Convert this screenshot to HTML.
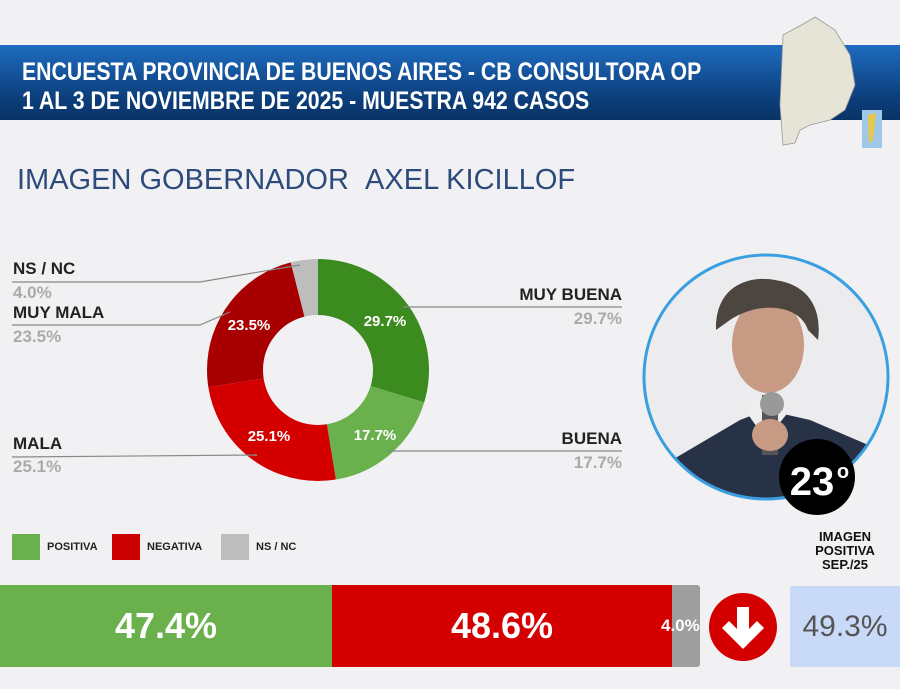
<!DOCTYPE html>
<html><head><meta charset="utf-8"><style>
body{margin:0;width:900px;height:689px;background:#f1f1f3;font-family:"Liberation Sans",sans-serif;position:relative;overflow:hidden}
.a{position:absolute}
.hdr{left:0;top:45px;width:900px;height:75px;background:linear-gradient(#1f6cc0,#0c3f7c 70%,#0a3366)}
.ht{left:22px;font-family:"Liberation Sans Narrow","Liberation Sans",sans-serif;color:#fff;font-weight:bold;font-size:25px;line-height:28px;transform:scaleX(0.85);transform-origin:left;white-space:nowrap}
.lab{font-weight:bold;font-size:17px;line-height:18px;color:#222;white-space:nowrap}
.val{font-weight:bold;font-size:17px;line-height:18px;color:#aaa}
.r{text-align:right;width:200px}
.lg{font-size:11px;font-weight:bold;color:#222}
</style></head><body>
<div class="a hdr"></div>
<div class="a ht" style="top:58px">ENCUESTA PROVINCIA DE BUENOS AIRES - CB CONSULTORA OP</div>
<div class="a ht" style="top:87px">1 AL 3 DE NOVIEMBRE DE 2025 - MUESTRA 942 CASOS</div>
<svg class="a" style="left:775px;top:15px" width="110" height="135">
<path d="M8,20 L30,8 L40,2 L60,15 L75,40 L80,70 L70,95 L55,105 L35,110 L25,115 L20,128 L8,130 L5,90 Z" fill="#e6e4d6" stroke="#999" stroke-width="0.8"/>
<rect x="87" y="95" width="20" height="38" fill="#9fc8e8"/><path d="M93,100 L101,98 L98,125 L94,128 Z" fill="#e8c84a"/>
</svg>
<div class="a" style="left:17px;top:164px;font-size:29px;color:#2d4a7c;white-space:nowrap;transform:scaleX(1.0);transform-origin:left">IMAGEN GOBERNADOR &nbsp;AXEL KICILLOF</div>

<svg class="a" style="left:0;top:0" width="900" height="689">
<g transform="rotate(-90 318 370)" fill="none" stroke-width="56">
<circle cx="318" cy="370" r="83" stroke="#3c8b1e" stroke-dasharray="154.9 521.5" stroke-dashoffset="0"/>
<circle cx="318" cy="370" r="83" stroke="#6ab04c" stroke-dasharray="92.3 521.5" stroke-dashoffset="-154.9"/>
<circle cx="318" cy="370" r="83" stroke="#d40000" stroke-dasharray="130.9 521.5" stroke-dashoffset="-247.2"/>
<circle cx="318" cy="370" r="83" stroke="#a80000" stroke-dasharray="122.6 521.5" stroke-dashoffset="-378.1"/>
<circle cx="318" cy="370" r="83" stroke="#bdbdbd" stroke-dasharray="20.9 521.5" stroke-dashoffset="-500.7"/>
</g>
<g stroke="#888" stroke-width="1.2" fill="none">
<polyline points="12,282 200,282 300,265"/>
<polyline points="12,325 200,325 230,312"/>
<polyline points="403,307 622,307"/>
<polyline points="388,451 622,451"/>
<polyline points="12,457 257,455"/>
</g>
<g font-family="Liberation Sans" font-weight="bold" font-size="15" fill="#fff" text-anchor="middle">
<text x="385" y="326">29.7%</text><text x="375" y="440">17.7%</text>
<text x="269" y="441">25.1%</text><text x="249" y="330">23.5%</text>
</g>
<defs><clipPath id="c"><circle cx="766" cy="377" r="122"/></clipPath></defs>
<circle cx="766" cy="377" r="122" fill="#ececef"/>
<g clip-path="url(#c)">
<path d="M672,460 L740,420 L766,410 L810,420 L880,450 L900,520 L660,520 Z" fill="#283247"/>
<path d="M745,410 L766,440 L790,410 L780,400 L752,400 Z" fill="#eee"/>
<ellipse cx="768" cy="345" rx="36" ry="48" fill="#c79a84"/>
<path d="M716,330 C715,285 750,275 775,280 C810,285 822,310 818,340 L808,330 C800,305 760,300 730,320 Z" fill="#4d4640"/>
<rect x="762" y="395" width="16" height="60" fill="#555"/>
<circle cx="772" cy="404" r="12" fill="#999"/>
<ellipse cx="770" cy="435" rx="18" ry="16" fill="#c79a84"/>
</g>
<circle cx="766" cy="377" r="122" fill="none" stroke="#3a9fe0" stroke-width="3"/>
<circle cx="817" cy="477" r="38" fill="#000"/>
<text x="812" y="495" font-family="Liberation Sans" font-weight="bold" font-size="40" fill="#fff" text-anchor="middle">23</text>
<text x="843" y="478" font-family="Liberation Sans" font-weight="bold" font-size="20" fill="#fff" text-anchor="middle">o</text>
</svg>

<div class="a lab" style="left:13px;top:260px">NS / NC</div>
<div class="a val" style="left:13px;top:284px">4.0%</div>
<div class="a lab" style="left:13px;top:304px">MUY MALA</div>
<div class="a val" style="left:13px;top:328px">23.5%</div>
<div class="a lab" style="left:13px;top:435px">MALA</div>
<div class="a val" style="left:13px;top:458px">25.1%</div>
<div class="a lab r" style="left:422px;top:286px">MUY BUENA</div>
<div class="a val r" style="left:422px;top:310px">29.7%</div>
<div class="a lab r" style="left:422px;top:430px">BUENA</div>
<div class="a val r" style="left:422px;top:454px">17.7%</div>

<div class="a" style="left:12px;top:534px;width:28px;height:26px;background:#6ab04c"></div>
<div class="a lg" style="left:47px;top:541px">POSITIVA</div>
<div class="a" style="left:112px;top:534px;width:28px;height:26px;background:#cc0000"></div>
<div class="a lg" style="left:147px;top:541px">NEGATIVA</div>
<div class="a" style="left:221px;top:534px;width:28px;height:26px;background:#bdbdbd"></div>
<div class="a lg" style="left:256px;top:541px">NS / NC</div>

<div class="a" style="left:790px;top:530px;width:110px;text-align:center;font-weight:bold;font-size:13px;line-height:14px;color:#111">IMAGEN<br>POSITIVA<br>SEP./25</div>

<div class="a" style="left:0;top:585px;width:332px;height:82px;background:#6ab04c;color:#fff;font-size:36px;font-weight:bold;text-align:center;line-height:82px">47.4%</div>
<div class="a" style="left:332px;top:585px;width:340px;height:82px;background:#d40000;color:#fff;font-size:36px;font-weight:bold;text-align:center;line-height:82px">48.6%</div>
<div class="a" style="left:672px;top:585px;width:28px;height:82px;background:#9e9e9e;border-radius:0 3px 3px 0"></div>
<div class="a" style="left:661px;top:616px;font-size:17px;font-weight:bold;color:#fff">4.0%</div>
<div class="a" style="left:709px;top:593px;width:68px;height:68px;border-radius:50%;background:#d40000"></div>
<svg class="a" style="left:709px;top:593px" width="68" height="68"><path d="M28,14 H40 V36 L48,28 L55,35 L34,56 L13,35 L20,28 L28,36 Z" fill="#fff"/></svg>
<div class="a" style="left:790px;top:586px;width:110px;height:81px;background:#c9daf8;color:#555;font-size:30px;text-align:center;line-height:81px">49.3%</div>
</body></html>
